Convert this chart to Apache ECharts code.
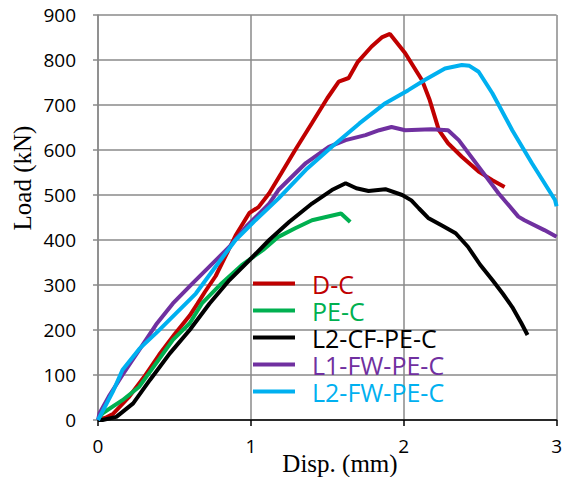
<!DOCTYPE html>
<html>
<head>
<meta charset="utf-8">
<script src="https://cdn.jsdelivr.net/npm/echarts@6/dist/echarts.min.js"></script>
<style>
html,body{margin:0;padding:0;background:#fff;}
#chart{width:565px;height:477px;}
</style>
</head>
<body>
<div id="chart"></div>
<script>
var seriesNames = ['D-C', 'PE-C', 'L2-CF-PE-C', 'L1-FW-PE-C', 'L2-FW-PE-C'];
var seriesColors = ['#C00000', '#00B050', '#000000', '#7030A0', '#00B0F0'];
var xTicks = [0, 1, 2, 3];
var yTicks = [0, 100, 200, 300, 400, 500, 600, 700, 800, 900];

var dataDC = [[0,0],[0.05,5],[0.1,14],[0.2,50],[0.3,95],[0.4,145],[0.5,190],[0.6,232],[0.65,258],[0.7,285],[0.77,320],[0.85,375],[0.9,410],[0.99,460],[1.05,473],[1.12,504],[1.2,549],[1.29,600],[1.4,660],[1.5,715],[1.575,752],[1.64,760],[1.7,796],[1.79,830],[1.86,851],[1.91,858],[2.01,815],[2.12,755],[2.17,711],[2.23,644],[2.29,615],[2.38,585],[2.49,552],[2.58,533],[2.66,518]];
var dataPEC = [[0,0],[0.03,15],[0.16,44],[0.27,74],[0.38,126],[0.49,178],[0.6,215],[0.68,259],[0.81,304],[0.94,344],[1.08,378],[1.18,407],[1.29,426],[1.4,444],[1.59,459],[1.65,440]];
var dataL2CF = [[0,0],[0.03,0],[0.12,7],[0.23,37],[0.34,89],[0.47,148],[0.6,200],[0.73,259],[0.86,311],[0.99,355],[1.12,400],[1.25,440],[1.4,481],[1.53,511],[1.62,526],[1.69,515],[1.77,509],[1.88,513],[1.99,500],[2.05,488],[2.1,470],[2.16,449],[2.25,432],[2.34,415],[2.42,385],[2.5,345],[2.58,311],[2.65,280],[2.71,251],[2.77,215],[2.81,189]];
var dataL1FW = [[0,0],[0.01,15],[0.07,52],[0.16,100],[0.27,156],[0.38,212],[0.49,259],[0.62,304],[0.75,348],[0.86,385],[0.97,430],[1.12,481],[1.18,511],[1.36,571],[1.51,607],[1.62,622],[1.75,633],[1.84,644],[1.92,651],[2.01,644],[2.18,646],[2.29,644],[2.36,622],[2.49,563],[2.62,504],[2.75,452],[2.79,444],[2.92,422],[3.0,407]];
var dataL2FW = [[0,0],[0.1,65],[0.16,111],[0.27,158],[0.38,193],[0.51,237],[0.64,281],[0.77,341],[0.9,400],[1.03,444],[1.18,492],[1.36,556],[1.53,607],[1.71,659],[1.88,704],[2.03,733],[2.14,756],[2.27,781],[2.38,789],[2.43,787],[2.49,774],[2.58,726],[2.71,644],[2.84,570],[2.99,489],[3.0,475]];

var allData = [dataDC, dataPEC, dataL2CF, dataL1FW, dataL2FW];

var chart = echarts.init(document.getElementById('chart'), null, {renderer: 'svg'});
var gridColor = '#8a8a8a';

var option = {
  animation: false,
  backgroundColor: '#ffffff',
  grid: {left: 98, right: 7, top: 15, bottom: 57},
  xAxis: {
    type: 'value', min: xTicks[0], max: xTicks[xTicks.length-1], interval: 1,
    axisLine: {show: true, onZero: false, lineStyle: {color: '#000000', width: 1.5}},
    axisTick: {show: true, length: 6, lineStyle: {color: '#000000', width: 1.5}},
    axisLabel: {show: true, margin: 16, fontFamily: 'Open Sans', fontSize: 19, color: '#000'},
    splitLine: {show: true, lineStyle: {color: gridColor, width: 1.5, type: 'solid'}}
  },
  yAxis: {
    type: 'value', min: yTicks[0], max: yTicks[yTicks.length-1], interval: 100,
    axisLine: {show: true, lineStyle: {color: gridColor, width: 1.5}},
    axisTick: {show: true, length: 5, lineStyle: {color: gridColor, width: 1.5}},
    axisLabel: {show: true, margin: 22, fontFamily: 'Open Sans', fontSize: 19, color: '#000'},
    splitLine: {show: true, lineStyle: {color: gridColor, width: 1.5, type: 'solid'}}
  },
  legend: {
    orient: 'vertical', left: 253, top: 270, padding: 0,
    icon: 'rect', itemWidth: 42, itemHeight: 4, itemGap: 0,
    textStyle: {fontFamily: 'Open Sans', fontSize: 25, lineHeight: 27, padding: [0,0,0,12]},
    data: seriesNames.map(function(n, i){ return {name: n, textStyle: {color: seriesColors[i]}}; })
  },
  graphic: [
    {type: 'text', x: 22, y: 178, rotation: Math.PI/2, style: {text: 'Load (kN)', font: '25px "Liberation Serif"', fill: '#000', align: 'center', verticalAlign: 'middle'}},
    {type: 'text', x: 340, y: 463, style: {text: 'Disp. (mm)', font: '25px "Liberation Serif"', fill: '#000', align: 'center', verticalAlign: 'middle'}}
  ],
  series: seriesNames.map(function(n, i){
    return {
      name: n, type: 'line', data: allData[i], showSymbol: false, symbol: 'none',
      lineStyle: {color: seriesColors[i], width: 4}, itemStyle: {color: seriesColors[i]},
      clip: false
    };
  })
};
chart.setOption(option);
</script>
</body>
</html>
